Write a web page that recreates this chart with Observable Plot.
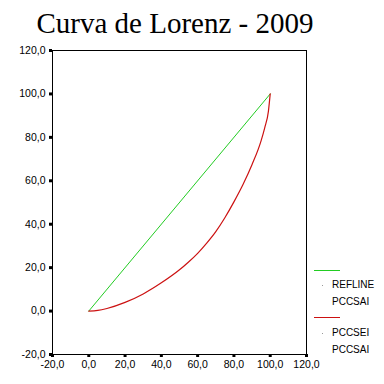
<!DOCTYPE html>
<html>
<head>
<meta charset="utf-8">
<script src="https://cdn.jsdelivr.net/npm/d3@7"></script>
<script src="https://cdn.jsdelivr.net/npm/@observablehq/plot@0.6"></script>
<style>
  html, body { margin: 0; padding: 0; background: #fff; }
  #wrap { position: relative; width: 384px; height: 384px; overflow: hidden; font-family: "Liberation Sans", Arial, sans-serif; }
  #title { position: absolute; left: 0; width: 350px; top: 8px; height: 30px; line-height: 30px; text-align: center;
           font-family: "Liberation Serif", "Times New Roman", serif; font-size: 29px; color: #000; white-space: nowrap; }
  #chart { position: absolute; left: 0; top: 40px; }
  .lg { position: absolute; font-size: 10px; color: #000; line-height: 12px; }
  .sw { position: absolute; height: 0; width: 26px; border-top: 1px solid; }
  .dot { position: absolute; width: 1px; height: 1px; background: #999; }
</style>
</head>
<body>
<div id="wrap">
  <div id="title">Curva de Lorenz - 2009</div>
  <div id="chart"></div>
  <div id="legend"></div>
</div>
<script>
// Data
const xTicks = [-20, 0, 20, 40, 60, 80, 100, 120];
const yTicks = [-20, 0, 20, 40, 60, 80, 100, 120];
const refX = [0, 100];
const refY = [0, 100];
const lorenzX = [0, 5, 10, 20, 30, 40, 50, 55, 60, 65, 70, 75, 80, 85, 90, 95, 97, 99, 100];
const lorenzY = [0, 0.3, 1.2, 4.0, 7.9, 13.0, 19.0, 22.6, 26.6, 31.3, 36.6, 43.0, 50.3, 58.3, 67.5, 78.5, 84.5, 92, 100];
const legendLabels = ["REFLINE", "PCCSAI", "PCCSEI", "PCCSAI"];
const greenColor = "#22cc22";
const redColor = "#cc1111";

const ref = refX.map((x, i) => ({x, y: refY[i]}));
const lor = lorenzX.map((x, i) => ({x, y: lorenzY[i]}));
const fmt = d => d.toFixed(1).replace(".", ",");

const plot = Plot.plot({
  width: 384,
  height: 344,
  marginLeft: 52,
  marginRight: 78,
  marginTop: 10,
  marginBottom: 30,
  style: {fontFamily: "Liberation Sans, Arial, sans-serif", fontSize: "10.5px", color: "#000", background: "#fff"},
  x: {domain: [-20, 120]},
  y: {domain: [-20, 120]},
  marks: [
    Plot.frame({stroke: "#000", strokeWidth: 1}),
    Plot.axisX({ticks: xTicks, tickFormat: fmt, tickSize: 3, tickPadding: 3, strokeWidth: 3, label: null, fill: "#000"}),
    Plot.axisY({ticks: yTicks, tickFormat: fmt, tickSize: 3, tickPadding: 4, strokeWidth: 3, label: null, fill: "#000"}),
    Plot.line(ref, {x: "x", y: "y", stroke: greenColor, strokeWidth: 1}),
    Plot.line(lor, {x: "x", y: "y", stroke: redColor, strokeWidth: 1.2, curve: "monotone-x"})
  ]
});
document.getElementById("chart").appendChild(plot);

// Legend
const lg = document.getElementById("legend");
function add(html) { lg.insertAdjacentHTML("beforeend", html); }
add(`<div class="sw" style="left:314px;top:270px;border-color:${greenColor}"></div>`);
add(`<div class="dot" style="left:322px;top:285px"></div>`);
add(`<div class="lg" style="left:332px;top:279px">${legendLabels[0]}</div>`);
add(`<div class="lg" style="left:332px;top:296px">${legendLabels[1]}</div>`);
add(`<div class="sw" style="left:314px;top:317px;border-color:${redColor}"></div>`);
add(`<div class="dot" style="left:322px;top:333px"></div>`);
add(`<div class="lg" style="left:332px;top:327px">${legendLabels[2]}</div>`);
add(`<div class="lg" style="left:332px;top:344px">${legendLabels[3]}</div>`);
</script>
</body>
</html>
